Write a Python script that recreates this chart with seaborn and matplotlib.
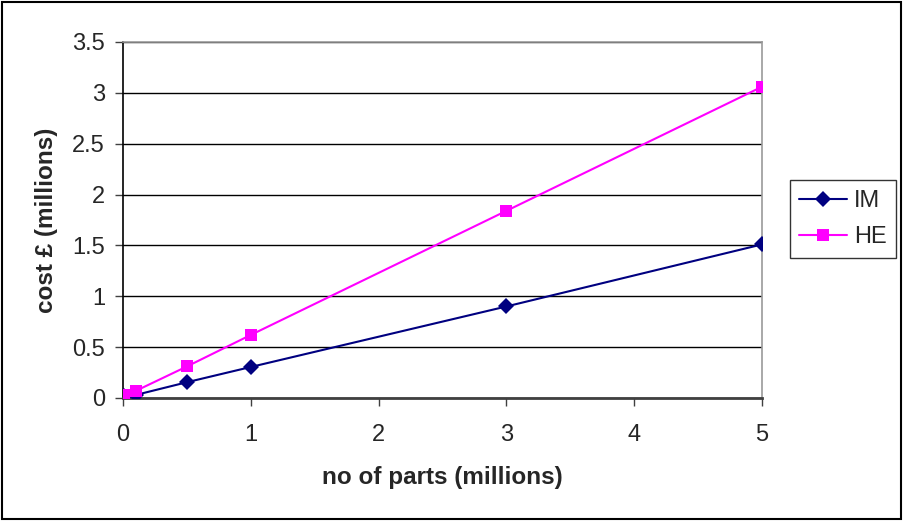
import seaborn as sns
import pandas as pd
import matplotlib.pyplot as plt
from matplotlib.patches import Rectangle

# data (millions)
parts = [0, 0.01, 0.1, 0.5, 1, 3, 5]
im_cost = [0.01, 0.015, 0.03, 0.155, 0.305, 0.90, 1.51]
he_cost = [0.015, 0.025, 0.07, 0.31, 0.62, 1.84, 3.06]
series = ['IM', 'HE']
colors = {'IM': '#000080', 'HE': '#FF00FF'}
markers = {'IM': 'D', 'HE': 's'}

df = pd.DataFrame({
    'parts': parts * 2,
    'cost': im_cost + he_cost,
    'series': ['IM'] * len(parts) + ['HE'] * len(parts),
})

sns.set_style('white')
plt.rcParams['font.family'] = ['Liberation Sans', 'DejaVu Sans']

fig = plt.figure(figsize=(9.04, 5.21), dpi=100)
ax = fig.add_axes([123 / 904, 1 - 398 / 521, (762 - 123) / 904, (398 - 42) / 521])

sns.lineplot(data=df, x='parts', y='cost', hue='series', style='series',
             palette=colors, markers=markers, dashes=False, hue_order=series,
             style_order=series, markersize=8.5, markeredgewidth=0, linewidth=1.5,
             ax=ax, legend=True, zorder=3)

ax.set_xlim(0, 5)
ax.set_ylim(0, 3.5)
ax.set_xticks(range(0, 6))
ax.set_yticks([0, 0.5, 1, 1.5, 2, 2.5, 3, 3.5])
ax.set_yticklabels(['0', '0.5', '1', '1.5', '2', '2.5', '3', '3.5'])
ax.yaxis.grid(True, color='black', linewidth=1)
ax.set_axisbelow(True)
ax.tick_params(axis='both', direction='out', length=6, width=1, labelsize=17,
               left=True, bottom=True, color='#404040')
ax.tick_params(axis='y', pad=7)
ax.tick_params(axis='x', pad=13)
ax.spines['left'].set_color('black')
ax.spines['bottom'].set_color('#404040')
ax.spines['top'].set_color('#999999')
ax.spines['right'].set_color('#999999')
for s in ax.spines.values():
    s.set_linewidth(1.2)
ax.spines['bottom'].set_linewidth(2)
ax.set_clip_on(False)

ax.set_xlabel('no of parts (millions)', fontsize=17.5, fontweight='bold', labelpad=14)
ax.set_ylabel('cost £ (millions)', fontsize=17.5, fontweight='bold', labelpad=10)

handles, labels = ax.get_legend_handles_labels()
ax.legend(handles, labels, loc='center left', bbox_to_anchor=(790 / 904, 1 - 219 / 521),
          bbox_transform=fig.transFigure, frameon=True, fancybox=False,
          edgecolor='black', fontsize=17, handlelength=2.0, borderpad=0.4,
          labelspacing=0.6, handletextpad=0.3, borderaxespad=0)
ax.get_legend().get_frame().set_linewidth(1)

fig.patches.append(Rectangle((0.002, 0.003), 0.995, 0.993, transform=fig.transFigure,
                             fill=False, edgecolor='black', linewidth=1.5))

fig.savefig('out.png', dpi=100)
